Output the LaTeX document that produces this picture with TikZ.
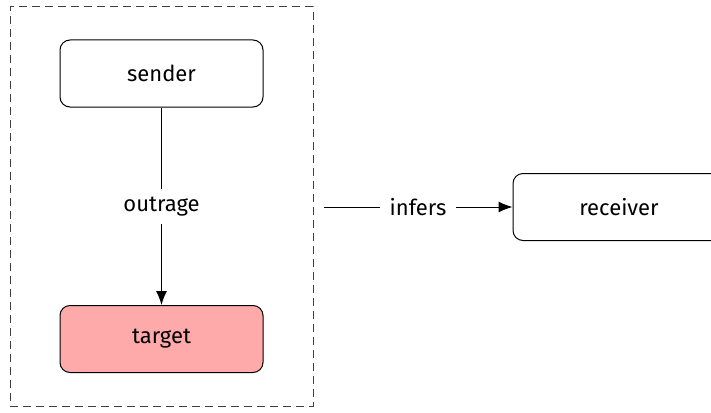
\documentclass[tikz,border=0pt]{standalone}
\usepackage{fontspec}
\setmainfont{Fira Sans}
\usetikzlibrary{arrows.meta}
\begin{document}
\begin{tikzpicture}[x=1pt,y=-1pt,
  box/.style={draw=black,line width=1pt,rounded corners=10pt,minimum width=203pt,minimum height=67pt,font=\fontsize{22}{24}\selectfont},
  lbl/.style={fill=white,inner xsep=10pt,inner ysep=8pt,font=\fontsize{22}{24}\selectfont},
  conn/.style={draw=black,line width=1pt,-{Latex[length=14pt,width=11pt]}}]
\useasboundingbox (0,0) rectangle (711,412);
\node[draw=black!75,line width=1pt,dash pattern=on 8pt off 5pt,minimum width=303pt,minimum height=399pt,inner sep=0pt] (group) at (161.5,206.5) {};
\node[box] (sender) at (161.5,73.5) {sender};
\node[box,fill={rgb,255:red,255;green,170;blue,170}] (target) at (161.5,339) {target};
\node[box,minimum width=212pt] (receiver) at (619,207) {receiver};
\draw[conn] (group.east |- receiver.west) ++(10,0) coordinate (s) -- node[lbl] {infers} (receiver.west);
\draw[conn] (sender) -- node[lbl] {outrage} (target);
\end{tikzpicture}
\end{document}
